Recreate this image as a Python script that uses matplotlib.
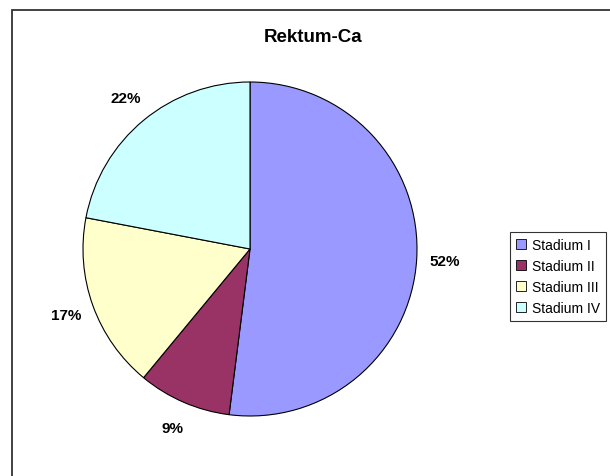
import matplotlib
matplotlib.use("Agg")
import matplotlib.pyplot as plt
from matplotlib.patches import Rectangle

labels = ["Stadium I", "Stadium II", "Stadium III", "Stadium IV"]
values = [52, 9, 17, 22]
colors = ["#9999FF", "#993366", "#FFFFCC", "#CCFFFF"]

plt.rcParams["font.family"] = ["Liberation Sans", "DejaVu Sans"]

W, H = 610, 477
fig = plt.figure(figsize=(W / 100, H / 100), dpi=100)

# outer chart frame (extends past right/bottom edges like the original)
fig.patches.append(Rectangle((12 / W, -0.1), 1.2, 1 - 11 / H + 0.1,
                             transform=fig.transFigure, fill=False,
                             edgecolor="#333333", linewidth=1.3))

ax = fig.add_axes([83 / W, 60 / H, 334 / W, 334 / H])
wedges, _, autotexts = ax.pie(values, colors=colors, startangle=90, counterclock=False,
                              autopct="%1.0f%%", pctdistance=1.17,
                              wedgeprops=dict(edgecolor="black", linewidth=0.8))
for t in autotexts:
    t.set_fontsize(11)
    t.set_fontweight("bold")
ax.set_xlim(-1, 1)
ax.set_ylim(-1, 1)
ax.set_aspect("equal")

fig.text(313 / W, 1 - 37 / H, "Rektum-Ca", ha="center", va="center",
         fontsize=13.5, fontweight="bold")

leg = fig.legend(wedges, labels, loc="lower left",
                 bbox_to_anchor=(510 / W, (H - 322) / H), borderaxespad=0,
                 fontsize=10, frameon=True, fancybox=False, edgecolor="black",
                 handlelength=0.7, handleheight=0.7, handletextpad=0.4,
                 labelspacing=0.5, borderpad=0.45)
leg.get_frame().set_linewidth(0.8)
for h in leg.legend_handles:
    h.set_edgecolor("black")
    h.set_linewidth(0.6)

plt.savefig("out.png", dpi=100)
